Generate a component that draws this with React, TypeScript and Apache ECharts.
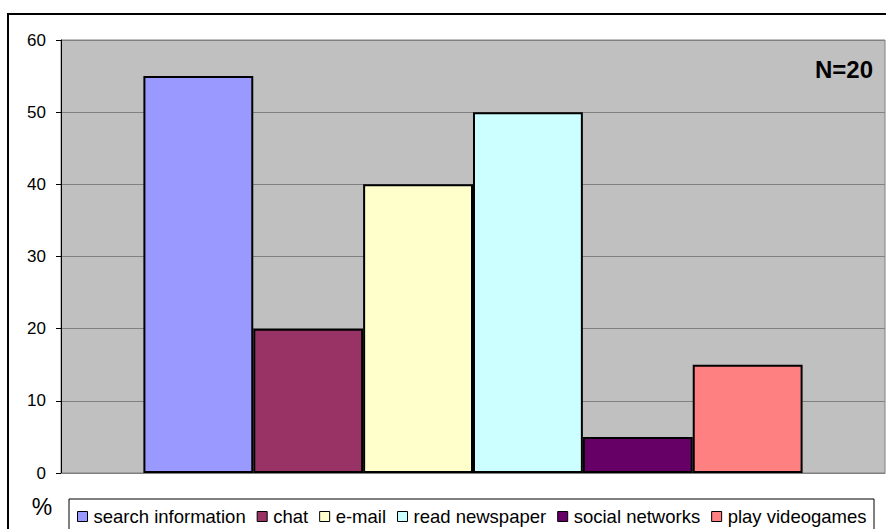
import React, { useEffect, useRef } from "react";
import * as echarts from "echarts";

const seriesNames = [
  "search information",
  "chat",
  "e-mail",
  "read newspaper",
  "social networks",
  "play videogames",
];
const seriesValues = [55, 20, 40, 50, 5, 15];
const seriesColors = ["#9999FF", "#993366", "#FFFFCC", "#CCFFFF", "#660066", "#FF8080"];
const yTicks = { min: 0, max: 60, interval: 10 };
const sampleNote = "N=20";
const unitLabel = "%";

const FONT = "'Liberation Sans', Arial, sans-serif";

export default function App() {
  const ref = useRef<HTMLDivElement>(null);

  useEffect(() => {
    if (!ref.current) return;
    const chart = echarts.init(ref.current, undefined, { renderer: "svg" });

    const series = seriesNames.map((name, i) => ({
      name,
      type: "bar" as const,
      data: [seriesValues[i]],
      barGap: "0%",
      barCategoryGap: "20%",
      itemStyle: { color: seriesColors[i], borderColor: "#000", borderWidth: 2 },
    }));

    chart.setOption({
      animation: false,
      backgroundColor: "#fff",
      textStyle: { fontFamily: FONT },
      grid: {
        left: 61,
        right: 1,
        top: 40,
        bottom: 56,
        show: true,
        backgroundColor: "#C0C0C0",
        borderColor: "#808080",
        borderWidth: 1,
      },
      xAxis: {
        type: "category",
        data: [""],
        axisLine: { show: true, lineStyle: { color: "#808080", width: 1 } },
        axisTick: { show: false },
        axisLabel: { show: false },
      },
      yAxis: {
        type: "value",
        min: yTicks.min,
        max: yTicks.max,
        interval: yTicks.interval,
        axisLine: { show: true, lineStyle: { color: "#000", width: 1 } },
        axisTick: { show: true, length: 5, lineStyle: { color: "#000" } },
        axisLabel: { color: "#000", fontSize: 17, fontFamily: FONT, margin: 15 },
        splitLine: { show: true, lineStyle: { color: "#808080", width: 1 } },
      },
      legend: {
        data: seriesNames,
        left: 77,
        top: 507,
        padding: 0,
        itemGap: 11,
        itemWidth: 10,
        itemHeight: 10,
        icon: "rect",
        itemStyle: { borderColor: "#000", borderWidth: 1 },
        textStyle: { color: "#000", fontSize: 18.5, fontFamily: FONT, padding: [0, 0, 0, 1] },
      },
      graphic: [
        {
          type: "rect",
          shape: { x: 8, y: 14, width: 900, height: 600 },
          style: { fill: "none", stroke: "#000", lineWidth: 2 },
          silent: true,
        },
        {
          type: "rect",
          shape: { x: 69, y: 499, width: 805, height: 60 },
          style: { fill: "none", stroke: "#000", lineWidth: 1 },
          silent: true,
        },
        {
          type: "text",
          x: 873,
          y: 69,
          style: {
            text: sampleNote,
            fill: "#000",
            font: `bold 24px ${FONT}`,
            textAlign: "right",
            textVerticalAlign: "middle",
          },
        },
        {
          type: "text",
          x: 42,
          y: 507,
          style: {
            text: unitLabel,
            fill: "#000",
            font: `23px ${FONT}`,
            textAlign: "center",
            textVerticalAlign: "middle",
          },
        },
      ],
      series,
    });

    return () => chart.dispose();
  }, []);

  return (
    <div
      ref={ref}
      style={{ position: "absolute", left: 0, top: 0, width: 886, height: 529 }}
    />
  );
}
